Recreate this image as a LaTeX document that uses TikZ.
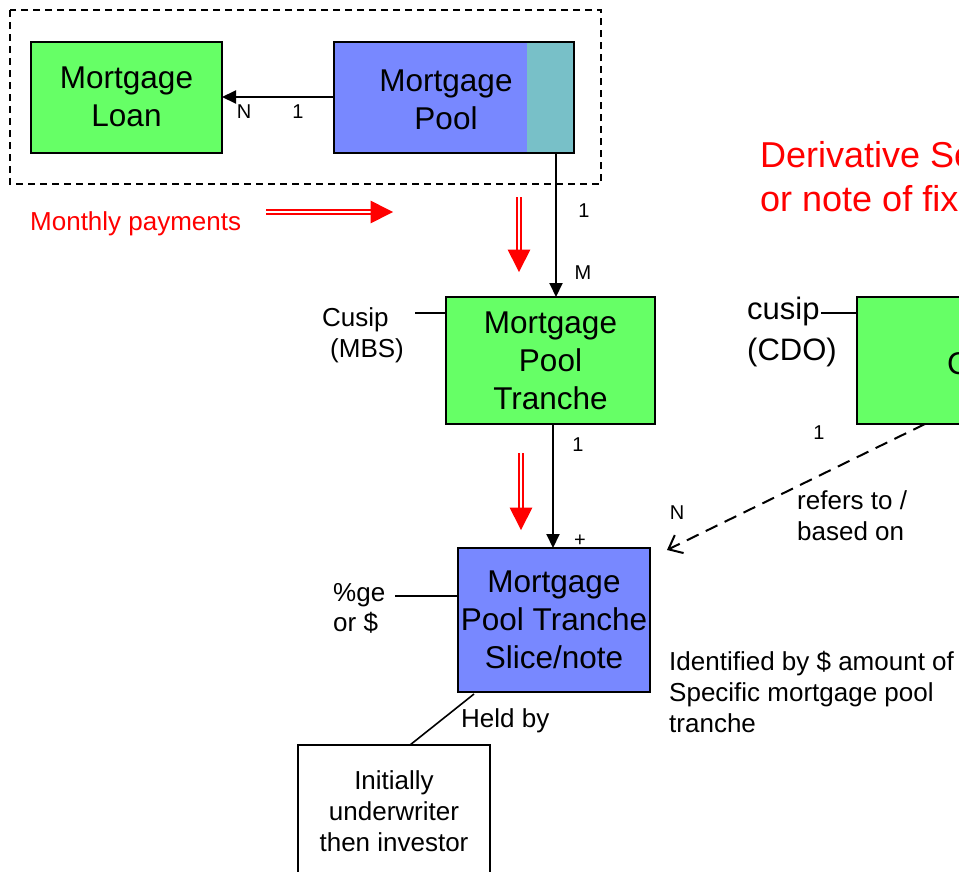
\documentclass[tikz,border=0pt]{standalone}
\usepackage{fontspec}
\setmainfont{Liberation Sans}
\usetikzlibrary{arrows.meta,calc}

\definecolor{entgreen}{RGB}{102,255,102}
\definecolor{entblue}{RGB}{120,136,255}
\definecolor{keyteal}{RGB}{120,192,200}

\newcommand\boxfont{\fontsize{31.5}{38}\selectfont}
\newcommand\notefont{\fontsize{26}{31}\selectfont}
\newcommand\cardfont{\fontsize{20}{24}\selectfont}
\newcommand\titlefont{\fontsize{36}{44}\selectfont}

\tikzset{
  entity/.style={draw=black, line width=2pt, inner sep=0pt, outer sep=0pt, align=center, font=\boxfont},
  greenbox/.style={entity, fill=entgreen},
  bluebox/.style={entity, fill=entblue},
  plainbox/.style={entity, fill=white, font=\notefont},
  conn/.style={line width=2pt, draw=black},
  rel/.style={conn, -{Triangle[length=14pt,width=13pt]}},
  refline/.style={line width=2pt, dash pattern=on 13pt off 8pt, -{Straight Barb[length=12pt,width=20pt,line width=2pt]}},
  card/.style={font=\cardfont, inner sep=0pt},
  note/.style={font=\notefont, inner sep=0pt, align=left, anchor=west},
  payshaft/.style={draw=red, line width=1.6pt, double=white, double distance=2.6pt},
}

% red "money flow" arrow: double shaft with a solid triangular head
\newcommand\payarrow[3]{% from, to, direction angle
  \draw[payshaft] (#1) -- ($(#2)!22pt!(#1)$);
  \fill[red] (#2) -- ([shift={(#3+180-27:25pt)}]#2) -- ([shift={(#3+180+27:25pt)}]#2) -- cycle;
}

\begin{document}
\begin{tikzpicture}[x=1pt,y=-1pt]
  \useasboundingbox (0,0) rectangle (959,871);
  \clip (0,0) rectangle (959,871);
  \fill[white] (0,0) rectangle (959,871);

  % grouping frame around loan and pool
  \draw[line width=1.6pt, dash pattern=on 7pt off 5pt] (10,10) rectangle (601,184);

  % entities
  \node[greenbox, minimum width=191pt, minimum height=111pt] (loan) at (126.5,97) {Mortgage\\Loan};
  \node[bluebox, minimum width=240pt, minimum height=111pt,
        path picture={\fill[keyteal] ([xshift=-47pt]path picture bounding box.north east)
                       rectangle (path picture bounding box.south east);}] (pool) at (454,97) {};
  \draw[line width=2pt] (pool.north west) rectangle (pool.south east);
  \node[font=\boxfont, align=center, inner sep=0pt] (pooltext) at (446,100) {Mortgage\\Pool};

  \node[greenbox, minimum width=209pt, minimum height=127pt] (tr) at (550.5,360.5) {Mortgage\\Pool\\Tranche};
  \node[bluebox, minimum width=192pt, minimum height=144pt] (slice) at (554,620) {Mortgage\\Pool Tranche\\Slice/note};
  \node[plainbox, minimum width=192pt, minimum height=132pt] (holder) at (394,811) {Initially\\underwriter\\then investor};
  \node[greenbox, minimum width=209pt, minimum height=127pt] (cdo) at (961.5,360.5) {};
  \node[font=\boxfont, anchor=west, inner sep=0pt] (cdotext) at (947,364) {CDO};

  % relationships
  \draw[rel] (pool.west) -- (loan.east);
  \node[card] (n1) at (244,112) {N};
  \node[card] (o1) at (298,112) {1};

  \coordinate (xa) at (556,0);
  \draw[rel] (pool.south -| xa) -- (tr.north -| xa);
  \node[card] (o2) at (584,211) {1};
  \node[card] (m2) at (583,273) {M};

  \coordinate (xb) at (553,0);
  \draw[rel] (tr.south -| xb) -- (slice.north -| xb);
  \node[card] (o3) at (578,445) {1};
  \node[card] (p3) at (580,541) {+};

  \coordinate (refstart) at (925,424);
  \coordinate (refend) at (667,550);
  \draw[refline] (refstart) -- (refend);
  \node[card] (o4) at (819,433) {1};
  \node[card] (n4) at (677,513) {N};
  \node[note] (refers) at (797,516) {refers to /\\based on};

  % attribute labels
  \node[note, align=left] (cusip) at (322,335) {Cusip\\\hspace*{8pt}(MBS)};
  \coordinate (cusipend) at (415,313);
  \draw[line width=1.6pt] (cusipend) -- (cusipend -| tr.west);

  \node[note, font={\fontsize{31}{41}\selectfont}] (cusipcdo) at (747,332) {cusip\\(CDO)};
  \coordinate (cdoend) at (821,313);
  \draw[line width=1.6pt] (cdoend) -- (cdoend -| cdo.west);

  \node[note, font={\fontsize{26}{30}\selectfont}] (share) at (333,608) {\%ge\\or \$};
  \coordinate (shareend) at (395,596);
  \draw[line width=1.6pt] (shareend) -- (shareend -| slice.west);

  \node[note] (heldby) at (461,721) {Held by};
  \coordinate (heldtop) at (474,694);
  \draw[line width=1.6pt] (heldtop) -- (holder.north -| 410,0);

  \node[note] (ident) at (669,692) {Identified by \$ amount of\\Specific mortgage pool\\tranche};

  % money flow
  \node[note, text=red] (monthly) at (30,224) {Monthly payments};
  \coordinate (mpA) at (266,212);
  \coordinate (mpB) at (393,212);
  \payarrow{mpA}{mpB}{0}
  \coordinate (mpC) at (519,197);
  \coordinate (mpD) at (519,272);
  \payarrow{mpC}{mpD}{-90}
  \coordinate (mpE) at (521,453);
  \coordinate (mpF) at (521,530);
  \payarrow{mpE}{mpF}{-90}

  % heading
  \node[note, text=red, font=\titlefont] (title) at (760,177) {Derivative Security\\or note of fixed income};
\end{tikzpicture}
\end{document}
